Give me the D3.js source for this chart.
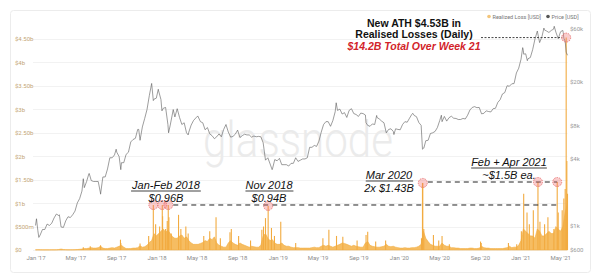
<!DOCTYPE html>
<html>
<head>
<meta charset="utf-8">
<script src="https://cdn.jsdelivr.net/npm/d3@7"></script>
<style>
  body { margin: 0; background: #fff; }
  svg { display: block; font-family: "Liberation Sans", Arial, sans-serif; }
</style>
</head>
<body>
<svg id="chart"></svg>
<script>
// weekly samples, first Sunday of 2017 onwards
var weekStart = "2017-01-01";

// BTC price [USD], one value per week
var price2017 = [1000,900,820,920,920, 1030,1000,1050,1170, 1270,1230,970,960, 1100,1200,1180,1250,1350,
  1600,1750,2050,2200, 2500,2950,2550,2500, 2500,2500,1950,2750,2750, 3250,4100,4100,4350,
  4600,4200,3700,3700, 4400,4600,5700,6000,6150, 7400,5950,7800,9300, 11200,15000,19300,13900,14200];
var price2018 = [16500,13800,11500,11700, 8200,8100,10400,9600, 11400,9500,8200,8500, 6900,7000,8100,8900,9400,
  9650,8700,8500,7350, 7700,6750,6500,6100, 6350,6750,6350,7400,8200, 7000,6300,6400,6700,
  7300,6250,6500,6700,6600, 6600,6300,6450,6350, 6400,6350,5600,3900, 4100,3600,3250,3950,3850];
var price2019 = [4050,3550,3550,3550, 3450,3650,3650,4100, 3800,3900,4000,4000,4100, 5100,5100,5300,5200,
  5800,7000,8200,8700, 8700,7900,8900,10700,11000, 11300,10200,10500,9500, 11000,11400,10300,10100,
  9700,10400,10300,10000,8050, 7900,8300,8200,9500, 9200,8800,8500,6900, 7400,7500,7100,7500,7400];
var price2020 = [7350,8200,8700,8600, 9350,10150,9900,9650, 8550,8050,5000,5850,5900, 6800,6900,7100,7700,
  8900,8700,9700,8800,9450, 9750,9350,9300,9100, 9100,9300,9200,9950, 11100,11700,11900,11650,11700,
  10250,10350,10900,10750, 10650,11400,11500,13000, 13750,15500,15950,18400,18200, 19150,19250,24000,26500];
var price2021 = [32000,38300,35800,32300,33100, 39000,48700,57400,45200, 51200,59000,57500,55800,
  58200,59800,56200,49100, 56600,58200,46400,34700];

// extra daily highs / lows
var priceExtra = [
  ["2017-01-04",1150],["2017-01-11",780],["2017-03-14",1250],["2017-05-25",2650],["2017-06-12",2950],
  ["2017-07-16",1920],["2017-09-01",4900],["2017-09-15",3200],["2017-11-08",7400],["2017-11-12",5900],
  ["2017-12-17",19300],["2017-12-22",13500],["2018-01-06",17100],["2018-01-17",10900],["2018-02-06",6900],
  ["2018-02-20",11200],["2018-04-06",6600],["2018-05-05",9800],["2018-11-25",3900],["2018-12-15",3200],
  ["2019-06-26",12900],["2019-09-24",8500],["2019-10-26",9900],["2019-12-17",6650],["2020-02-12",10350],
  ["2020-03-12",4900],["2020-03-16",5000],["2020-05-08",9950],["2021-01-08",40700],["2021-01-11",35500],
  ["2021-01-22",31000],["2021-02-21",57500],["2021-03-13",61200],["2021-04-13",63500],["2021-04-25",49000],
  ["2021-05-03",57000],["2021-05-10",56000],["2021-05-12",49500],["2021-05-19",37000]
];

// realised loss [USD bn], weekly background level
var loss2017 = [.004,.008,.006,.004,.004, .004,.004,.005,.005, .006,.01,.02,.01, .008,.006,.006,.006,.008,
  .01,.015,.02,.03, .03,.04,.05,.04, .04,.05,.08,.04,.03, .03,.04,.05,.04, .06,.08,.1,.06,
  .03,.03,.03,.04,.04, .05,.09,.06,.07, .1,.16,.2,.35,.3];
var loss2018 = [.35,.4,.45,.38, .42,.35,.28,.25, .25,.3,.32,.25, .28,.2,.15,.12,.12, .12,.14,.16,.2,
  .18,.25,.22,.28, .15,.1,.08,.06,.06, .15,.2,.15,.12, .1,.15,.12,.1,.08, .06,.08,.07,.06,
  .06,.1,.3,.35, .25,.2,.22,.15,.12];
var loss2019 = [.12,.15,.1,.08, .08,.06,.05,.05, .05,.04,.04,.04,.04, .04,.05,.06,.05, .05,.08,.1,.08,
  .1,.08,.06,.08,.1, .12,.15,.14,.12, .1,.08,.1,.08, .07,.06,.06,.15,.18, .1,.08,.07,.06,
  .06,.07,.08,.12, .08,.07,.08,.06,.05];
var loss2020 = [.04,.04,.05,.04, .04,.05,.05,.06, .08,.12,.4,.25,.18, .12,.1,.08,.08, .08,.15,.1,.08,.08,
  .05,.05,.04,.04, .03,.03,.03,.03, .04,.04,.03,.03,.04, .08,.05,.04,.04, .03,.03,.03,.03,
  .03,.03,.04,.05,.08, .05,.06,.06,.1];
var loss2021 = [.2,.45,.4,.35,.3, .3,.25,.45,.4, .3,.3,.35,.4, .35,.35,.5,.45, .4,.5,.8,1.0];

// daily spikes in realised loss [USD bn]
var lossSpikes = [
  ["2017-05-25",.06],["2017-06-15",.08],["2017-07-16",.1],["2017-09-14",.22],["2017-09-15",.15],
  ["2017-11-12",.14],["2017-12-08",.3],["2017-12-22",.96],["2017-12-29",.55],["2018-01-10",.5],
  ["2018-01-18",.96],["2018-01-19",.72],["2018-01-28",.45],["2018-02-02",.62],["2018-02-05",.96],
  ["2018-02-07",.7],["2018-02-14",.35],["2018-03-08",.75],["2018-03-15",.45],["2018-03-30",.5],
  ["2018-04-06",.35],["2018-05-23",.3],["2018-06-10",.4],["2018-06-29",.7],["2018-07-12",.25],
  ["2018-08-10",.38],["2018-08-14",.45],["2018-09-05",.3],["2018-10-11",.2],["2018-11-14",.43],
  ["2018-11-19",.5],["2018-11-25",.68],["2018-12-03",.94],["2018-12-13",.47],["2018-12-22",.3],
  ["2019-01-10",.6],["2019-02-24",.15],["2019-05-17",.25],["2019-06-04",.43],["2019-06-27",.3],
  ["2019-07-16",.28],["2019-08-28",.2],["2019-09-24",.32],["2019-09-29",.39],["2019-10-23",.18],
  ["2019-11-22",.2],["2020-03-09",.25],["2020-03-12",1.43],["2020-03-13",1.43],["2020-03-16",.45],
  ["2020-04-14",.32],["2020-04-30",.2],["2020-05-10",.3],["2020-06-01",.12],["2020-09-03",.18],
  ["2020-09-05",.15],["2020-11-26",.15],["2020-12-21",.12],["2021-01-04",.4],["2021-01-11",1.2],
  ["2021-01-21",.8],["2021-01-28",.55],["2021-02-09",.85],["2021-02-23",1.45],["2021-03-01",.6],
  ["2021-03-15",.55],["2021-03-25",.7],["2021-04-12",.45],["2021-04-22",1.45],["2021-04-25",.8],
  ["2021-05-07",.85],["2021-05-12",1.1],["2021-05-16",1.3],["2021-05-19",4.53],["2021-05-21",1.9],
  ["2021-05-23",1.2]
];

// circled spikes
var highlights = ["2017-12-22","2018-01-18","2018-02-05","2018-12-03","2020-03-13","2021-02-23","2021-04-22","2021-05-19"];

var lossTicks = [0, .5, 1, 1.5, 2, 2.5, 3, 3.5, 4, 4.5];
var lossTickLabels = ["$0","$500m","$1b","$1.50b","$2b","$2.50b","$3b","$3.50b","$4b","$4.50b"];
var priceTicks = [600, 1000, 4000, 8000, 20000, 60000];
var priceTickLabels = ["$600","$1k","$4k","$8k","$20k","$60k"];

var width = 600, height = 276;
var parse = d3.utcParse("%Y-%m-%d");
var start = parse(weekStart);

var svg = d3.select("#chart").attr("width", width).attr("height", height);

var x = d3.scaleUtc()
    .domain([start, parse("2021-05-23")])
    .range([35.5, 567.5]);
var yLoss = d3.scaleLinear().domain([0, 4.5]).range([250, 39]);
var yPrice = d3.scaleLog().domain([600, 60000]).range([250, 29]);

var priceWeekly = [].concat(price2017, price2018, price2019, price2020, price2021)
    .map(function(v, i) { return { date: d3.utcDay.offset(start, 7 * i), value: v }; });
var priceData = priceWeekly
    .concat(priceExtra.map(function(d) { return { date: parse(d[0]), value: d[1] }; }))
    .sort(function(a, b) { return a.date - b.date; });

var lossWeekly = [].concat(loss2017, loss2018, loss2019, loss2020, loss2021)
    .map(function(v, i) { return { date: d3.utcDay.offset(start, 7 * i), value: v }; });
var spikes = lossSpikes.map(function(d) { return { date: parse(d[0]), value: d[1] }; });

// frame
svg.append("rect")
    .attr("x", 10.5).attr("y", 10.5)
    .attr("width", 580).attr("height", 262)
    .attr("rx", 3)
    .attr("fill", "#fff")
    .attr("stroke", "#ececec");

// grid
svg.append("g")
    .selectAll("line")
    .data(lossTicks)
    .enter().append("line")
    .attr("x1", 33).attr("x2", 567.5)
    .attr("y1", function(d) { return Math.round(yLoss(d)) + 0.5; })
    .attr("y2", function(d) { return Math.round(yLoss(d)) + 0.5; })
    .attr("stroke", "#f2f2f2");

// watermark
svg.append("text")
    .attr("x", 298).attr("y", 157)
    .attr("text-anchor", "middle")
    .attr("font-family", "Roboto, sans-serif")
    .attr("font-weight", 300)
    .attr("font-size", 50)
    .attr("textLength", 190)
    .attr("lengthAdjust", "spacingAndGlyphs")
    .attr("fill", "#ebebeb")
    .text("glassnode");

// realised loss
var area = d3.area()
    .x(function(d) { return x(d.date); })
    .y0(yLoss(0))
    .y1(function(d) { return yLoss(d.value); });

svg.append("path")
    .datum(lossWeekly)
    .attr("fill", "#f6bd62")
    .attr("stroke", "#f2ac40")
    .attr("stroke-width", 0.6)
    .attr("d", area);

svg.append("g")
    .selectAll("line")
    .data(spikes)
    .enter().append("line")
    .attr("x1", function(d) { return x(d.date); })
    .attr("x2", function(d) { return x(d.date); })
    .attr("y1", yLoss(0))
    .attr("y2", function(d) { return yLoss(d.value); })
    .attr("stroke", "#f2ab40")
    .attr("stroke-width", 1.1);

// price
var line = d3.line()
    .x(function(d) { return x(d.date); })
    .y(function(d) { return yPrice(d.value); });

svg.append("path")
    .datum(priceData)
    .attr("fill", "none")
    .attr("stroke", "#5a5a5a")
    .attr("stroke-width", 0.6)
    .attr("stroke-linejoin", "round")
    .attr("d", line);

// axes
var xAxis = svg.append("g")
    .attr("transform", "translate(0,253)")
    .call(d3.axisBottom(x)
        .ticks(d3.utcMonth.every(4))
        .tickFormat(d3.utcFormat("%b '%y"))
        .tickSize(0));
xAxis.select(".domain").remove();
xAxis.selectAll("text")
    .attr("font-size", 6)
    .attr("font-family", "Roboto, sans-serif")
    .attr("fill", "#8c8c8c");

var yAxisL = svg.append("g")
    .attr("transform", "translate(15,0)")
    .call(d3.axisLeft(yLoss)
        .tickValues(lossTicks)
        .tickFormat(function(d, i) { return lossTickLabels[i]; })
        .tickSize(0));
yAxisL.select(".domain").remove();
yAxisL.selectAll("text")
    .attr("x", 0)
    .attr("text-anchor", "start")
    .attr("font-size", 6)
    .attr("font-family", "Roboto, sans-serif")
    .attr("fill", "#c4a675");

var yAxisR = svg.append("g")
    .attr("transform", "translate(570,0)")
    .call(d3.axisRight(yPrice)
        .tickValues(priceTicks)
        .tickFormat(function(d, i) { return priceTickLabels[i]; })
        .tickSize(0));
yAxisR.select(".domain").remove();
yAxisR.selectAll("text")
    .attr("x", 0)
    .attr("font-size", 6)
    .attr("font-family", "Roboto, sans-serif")
    .attr("fill", "#999");

// legend
var legend = svg.append("g").attr("font-family", "Roboto, sans-serif").attr("font-size", 5.5).attr("fill", "#777");
legend.append("circle").attr("cx", 489).attr("cy", 16.5).attr("r", 1.8).attr("fill", "#f3c57a");
legend.append("text").attr("x", 492.5).attr("y", 18.5).text("Realized Loss [USD]");
legend.append("circle").attr("cx", 548).attr("cy", 16.5).attr("r", 1.8).attr("fill", "#555");
legend.append("text").attr("x", 551.5).attr("y", 18.5).text("Price [USD]");

// reference levels
function level(x1, x2, v, dash, color) {
  svg.append("line")
      .attr("x1", x1).attr("x2", x2)
      .attr("y1", yLoss(v)).attr("y2", yLoss(v))
      .attr("stroke", color)
      .attr("stroke-width", 1)
      .attr("stroke-dasharray", dash);
}
level(x(parse("2018-02-05")) + 5, x(parse("2021-04-22")), 0.96, "5,4", "#222");
level(x(parse("2020-03-13")) + 5, x(parse("2021-04-22")), 1.45, "5,4", "#222");
level(481, x(parse("2021-05-19")) - 4, 4.53, "2,1.5", "#444");

// circles
var hl = spikes.filter(function(d) { return highlights.indexOf(d3.utcFormat("%Y-%m-%d")(d.date)) >= 0; });
svg.append("g")
    .selectAll("circle")
    .data(hl)
    .enter().append("circle")
    .attr("cx", function(d) { return x(d.date); })
    .attr("cy", function(d) { return yLoss(d.value); })
    .attr("r", 4.5)
    .attr("fill", "rgba(240,110,110,0.35)")
    .attr("stroke", "#e46a6a")
    .attr("stroke-width", 0.8)
    .attr("stroke-dasharray", "1.5,1");

// annotations
function note(cx, y, first, second) {
  var t = svg.append("text")
      .attr("x", cx).attr("y", y)
      .attr("text-anchor", "middle")
      .attr("font-size", 11)
      .attr("font-style", "italic")
      .attr("fill", "#111")
      .text(first);
  var b = t.node().getBBox();
  svg.append("line")
      .attr("x1", b.x).attr("x2", b.x + b.width)
      .attr("y1", y + 2).attr("y2", y + 2)
      .attr("stroke", "#111").attr("stroke-width", 0.8);
  svg.append("text")
      .attr("x", cx).attr("y", y + 13)
      .attr("text-anchor", "middle")
      .attr("font-size", 11)
      .attr("font-style", "italic")
      .attr("fill", "#111")
      .text(second);
}
note(166, 189, "Jan-Feb 2018", "$0.96B");
note(269, 189, "Nov 2018", "$0.94B");
note(389, 179, "Mar 2020", "2x $1.43B");
note(509, 166, "Feb + Apr 2021", "~$1.5B ea.");

var title = svg.append("g").attr("text-anchor", "middle").attr("font-weight", "bold").attr("font-size", 10.5);
title.append("text").attr("x", 414).attr("y", 26.5).attr("fill", "#111").text("New ATH $4.53B in");
title.append("text").attr("x", 414).attr("y", 38).attr("fill", "#111").text("Realised Losses (Daily)");
title.append("text").attr("x", 414).attr("y", 50).attr("fill", "#d2232a").attr("font-style", "italic")
    .text("$14.2B Total Over Week 21");
</script>
</body>
</html>
